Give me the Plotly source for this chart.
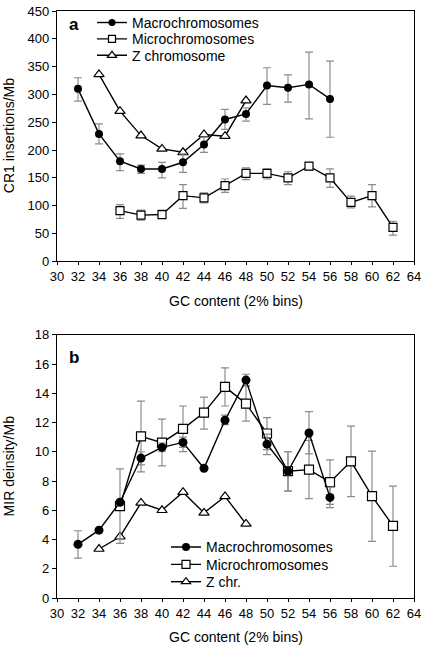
import plotly.graph_objects as go

# Panel a: CR1 insertions/Mb
a_macro_x = [32, 34, 36, 38, 40, 42, 44, 46, 48, 50, 52, 54, 56]
a_macro_y = [310, 229, 180, 166, 166, 178, 210, 255, 265, 316, 312, 318, 292]
a_macro_hi = [330, 247, 193, 173, 178, 193, 223, 273, 276, 348, 335, 376, 360]
a_macro_lo = [288, 211, 163, 158, 150, 160, 196, 237, 252, 282, 286, 256, 223]

a_micro_x = [36, 38, 40, 42, 44, 46, 48, 50, 52, 54, 56, 58, 60, 62]
a_micro_y = [91, 83, 84, 118, 114, 136, 158, 158, 150, 171, 150, 106, 118, 61]
a_micro_hi = [102, 92, 92, 138, 123, 148, 168, 166, 161, 177, 166, 117, 138, 72]
a_micro_lo = [77, 74, 77, 95, 105, 124, 147, 148, 138, 164, 133, 96, 98, 47]

a_z_x = [34, 36, 38, 40, 42, 44, 46, 48]
a_z_y = [336, 270, 226, 202, 196, 228, 225, 289]

# Panel b: MIR density/Mb
b_macro_x = [32, 34, 36, 38, 40, 42, 44, 46, 48, 50, 52, 54, 56]
b_macro_y = [3.67, 4.64, 6.55, 9.57, 10.3, 10.64, 8.87, 12.16, 14.9, 10.52, 8.67, 11.28, 6.88]
b_macro_hi = [4.6, 4.64, 6.55, 10.0, 10.6, 11.0, 8.87, 12.5, 15.3, 11.2, 10.0, 12.75, 7.58]
b_macro_lo = [2.72, 4.64, 6.55, 9.1, 10.0, 10.3, 8.87, 11.85, 14.5, 9.8, 7.31, 9.85, 6.18]

b_micro_x = [36, 38, 40, 42, 44, 46, 48, 50, 52, 54, 56, 58, 60, 62]
b_micro_y = [6.28, 11.05, 10.62, 11.57, 12.68, 14.44, 13.29, 11.25, 8.67, 8.78, 7.92, 9.35, 6.97, 4.93]
b_micro_hi = [8.83, 13.47, 12.23, 13.13, 13.74, 15.74, 14.5, 12.34, 10.0, 10.77, 9.44, 11.75, 10.05, 7.65]
b_micro_lo = [3.73, 8.63, 9.03, 10.01, 11.55, 13.13, 12.1, 10.15, 7.31, 6.79, 6.4, 6.93, 3.87, 2.17]

b_z_x = [34, 36, 38, 40, 42, 44, 46, 48]
b_z_y = [3.35, 4.19, 6.5, 6.0, 7.24, 5.82, 6.95, 5.07]

x_ticks = list(range(30, 66, 2))
ya_ticks = list(range(0, 451, 50))
yb_ticks = list(range(0, 19, 2))

legend_a = ["Macrochromosomes", "Microchromosomes", "Z chromosome"]
legend_b = ["Macrochromosomes", "Microchromosomes", "Z chr."]

ERR = "#8c8c8c"
FONT = "Liberation Sans, Arial, sans-serif"

W, H = 427, 647
ML, MR, MT, MB = 57, 13, 7, 49
PW = W - ML - MR
PH = H - MT - MB
top_a, bot_a = 7, 259
top_b, bot_b = 333, 598


def dom(top, bot):
    return [(H - MB - bot) / PH, (H - MB - top) / PH]


def px_x(x):
    return (x - ML) / PW


def px_y(y):
    return (H - MB - y) / PH


def err(y, hi, lo):
    return dict(type="data", symmetric=False,
                array=[h - v for h, v in zip(hi, y)],
                arrayminus=[v - l for v, l in zip(y, lo)],
                color=ERR, thickness=1.2, width=4)


line = dict(color="black", width=1.4)
mk_circle = lambda s: dict(symbol="circle", size=s, color="black")
mk_square = lambda s: dict(symbol="square", size=s, color="white", line=dict(color="black", width=1.2))
mk_tri = lambda s: dict(symbol="triangle-up", size=s, color="white", line=dict(color="black", width=1.2))

fig = go.Figure()

# panel a
fig.add_trace(go.Scatter(x=a_z_x, y=a_z_y, mode="lines+markers", line=line, marker=mk_tri(9),
                         xaxis="x", yaxis="y", showlegend=False))
fig.add_trace(go.Scatter(x=a_micro_x, y=a_micro_y, mode="lines+markers", line=line, marker=mk_square(8),
                         error_y=err(a_micro_y, a_micro_hi, a_micro_lo),
                         xaxis="x", yaxis="y", showlegend=False))
fig.add_trace(go.Scatter(x=a_macro_x, y=a_macro_y, mode="lines+markers", line=line, marker=mk_circle(8),
                         error_y=err(a_macro_y, a_macro_hi, a_macro_lo),
                         xaxis="x", yaxis="y", showlegend=False))

# panel b
fig.add_trace(go.Scatter(x=b_z_x, y=b_z_y, mode="lines+markers", line=line, marker=mk_tri(9),
                         xaxis="x2", yaxis="y2", showlegend=False))
fig.add_trace(go.Scatter(x=b_micro_x, y=b_micro_y, mode="lines+markers", line=line, marker=mk_square(9),
                         error_y=err(b_micro_y, b_micro_hi, b_micro_lo),
                         xaxis="x2", yaxis="y2", showlegend=False))
fig.add_trace(go.Scatter(x=b_macro_x, y=b_macro_y, mode="lines+markers", line=line, marker=mk_circle(9),
                         error_y=err(b_macro_y, b_macro_hi, b_macro_lo),
                         xaxis="x2", yaxis="y2", showlegend=False))

# legend entries: one legend per row so the row spacing can follow the reference
legend_layout = {}
rows_a = [19, 35.5, 52]
rows_b = [547, 564.5, 582]
idx = 1
for names, mks, rows, lx, ax in [
    (legend_a, [mk_circle(7), mk_square(7), mk_tri(8)], rows_a, 92, ("x", "y")),
    (legend_b, [mk_circle(8), mk_square(8), mk_tri(8)], rows_b, 166, ("x2", "y2")),
]:
    for name, mk, ry in zip(names, mks, rows):
        key = "legend" if idx == 1 else f"legend{idx}"
        fig.add_trace(go.Scatter(x=[None], y=[None], mode="lines+markers", name=name, line=line,
                                 marker=mk, xaxis=ax[0], yaxis=ax[1], legend=key))
        legend_layout[key] = dict(x=px_x(lx), y=px_y(ry), xanchor="left", yanchor="middle",
                                  bgcolor="rgba(0,0,0,0)", font=dict(size=14), itemwidth=30)
        idx += 1

axis_common = dict(showline=True, linecolor="black", linewidth=1.3, mirror=True,
                   showgrid=False, zeroline=False, ticks="outside",
                   tickcolor="black", automargin=False, ticklabeloverflow="allow",
                   tickfont=dict(size=13, color="black", family=FONT))

title_font = dict(size=14, color="black", family=FONT)

fig.update_layout(
    width=W, height=H,
    margin=dict(l=ML, r=MR, t=MT, b=MB),
    paper_bgcolor="white", plot_bgcolor="white",
    font=dict(family=FONT, color="black", size=13),
    xaxis=dict(**axis_common, ticklen=3, range=[30, 64], tickvals=x_ticks, anchor="y"),
    yaxis=dict(**axis_common, ticklen=4, range=[0, 450], tickvals=ya_ticks, domain=dom(top_a, bot_a), anchor="x"),
    xaxis2=dict(**axis_common, ticklen=3, range=[30, 64], tickvals=x_ticks, anchor="y2"),
    yaxis2=dict(**axis_common, ticklen=4, range=[0, 18], tickvals=yb_ticks, domain=dom(top_b, bot_b), anchor="x2"),
    showlegend=True,
    annotations=[
        dict(text="<b>a</b>", x=px_x(67), y=px_y(9), xref="paper", yref="paper",
             xanchor="left", yanchor="top", showarrow=False, font=dict(size=17)),
        dict(text="<b>b</b>", x=px_x(67), y=px_y(344), xref="paper", yref="paper",
             xanchor="left", yanchor="top", showarrow=False, font=dict(size=17)),
        dict(text="GC content (2% bins)", x=px_x(236), y=px_y(299), xref="paper", yref="paper",
             xanchor="center", yanchor="middle", showarrow=False, font=title_font),
        dict(text="GC content (2% bins)", x=px_x(236), y=px_y(637), xref="paper", yref="paper",
             xanchor="center", yanchor="middle", showarrow=False, font=title_font),
        dict(text="CR1 insertions/Mb", x=px_x(9), y=px_y((top_a + bot_a) / 2), xref="paper", yref="paper",
             xanchor="center", yanchor="middle", textangle=-90, showarrow=False, font=title_font),
        dict(text="MIR deinsity/Mb", x=px_x(9), y=px_y((top_b + bot_b) / 2), xref="paper", yref="paper",
             xanchor="center", yanchor="middle", textangle=-90, showarrow=False, font=title_font),
    ],
    **legend_layout,
)

fig.write_html("out.html", config={"displayModeBar": False},
               post_script="document.body.style.margin='0';document.body.style.overflow='hidden';")
